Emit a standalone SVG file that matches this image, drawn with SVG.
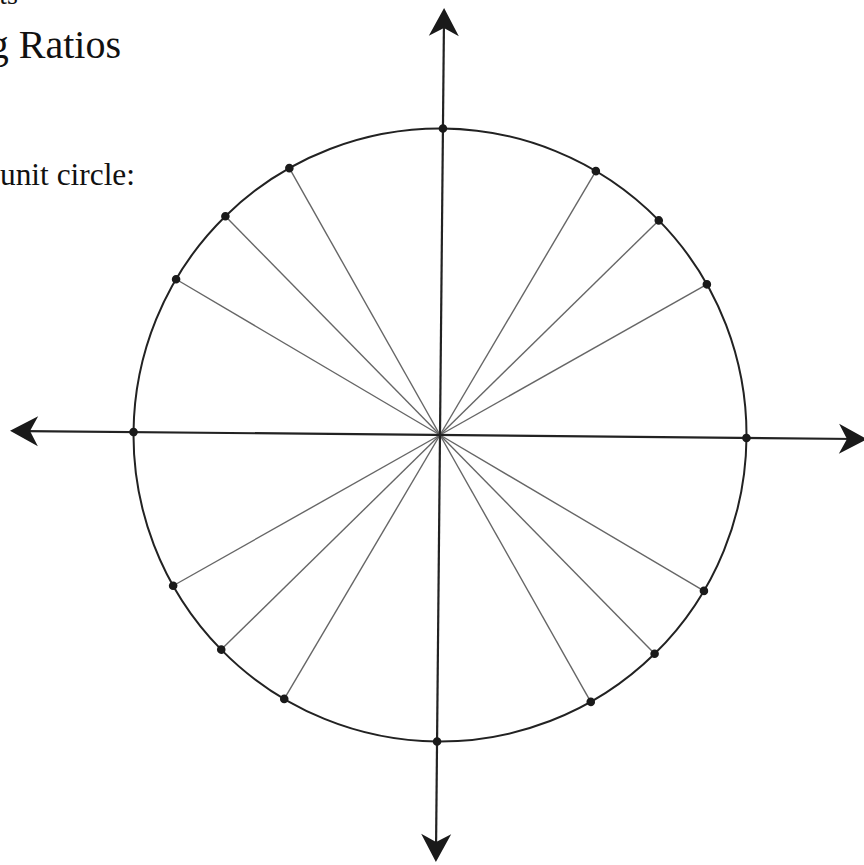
<svg xmlns="http://www.w3.org/2000/svg" width="864" height="865" viewBox="0 0 864 865">
<style>
.txt{font-family:"Liberation Serif","DejaVu Serif",serif;fill:#111}
.ray{stroke:#666;stroke-width:1.4;fill:none}
.axis{stroke:#222;stroke-width:2.2;fill:none}
.circ{stroke:#222;stroke-width:2;fill:none}
.dot{fill:#1a1a1a}
.head{fill:#1a1a1a}
</style>
<defs>
<path id="ah" class="head" d="M0,0 L-15,28 L0,20 L15,28 Z"/>
</defs>
<rect width="864" height="865" fill="#fff"/>
<text class="txt" x="18" y="4" font-size="28" text-anchor="end">ts</text>
<text class="txt" x="121" y="58" font-size="40" text-anchor="end">g Ratios</text>
<text class="txt" x="0" y="185" font-size="31" textLength="135" lengthAdjust="spacingAndGlyphs">unit circle:</text>
<g transform="rotate(0.55 440 435)">
<g id="rays">
<line class="ray" x1="440" y1="435" x2="705.4" y2="281.8"/>
<line class="ray" x1="440" y1="435" x2="656.7" y2="218.3"/>
<line class="ray" x1="440" y1="435" x2="593.3" y2="169.6"/>
<line class="ray" x1="440" y1="435" x2="286.8" y2="169.6"/>
<line class="ray" x1="440" y1="435" x2="223.3" y2="218.3"/>
<line class="ray" x1="440" y1="435" x2="174.6" y2="281.8"/>
<line class="ray" x1="440" y1="435" x2="174.6" y2="588.3"/>
<line class="ray" x1="440" y1="435" x2="223.3" y2="651.7"/>
<line class="ray" x1="440" y1="435" x2="286.8" y2="700.4"/>
<line class="ray" x1="440" y1="435" x2="593.3" y2="700.4"/>
<line class="ray" x1="440" y1="435" x2="656.7" y2="651.7"/>
<line class="ray" x1="440" y1="435" x2="705.4" y2="588.3"/>
</g>
<g id="circle">
<circle class="circ" cx="440" cy="435" r="306.5"/>
</g>
<g id="axes">
<line class="axis" x1="440" y1="24" x2="440" y2="846"/>
<line class="axis" x1="26" y1="435" x2="856" y2="435"/>
<use href="#ah" transform="translate(440 8)"/>
<use href="#ah" transform="translate(440 862) rotate(180)"/>
<use href="#ah" transform="translate(10 435) rotate(-90)"/>
<use href="#ah" transform="translate(867 435) rotate(90)"/>
</g>
<g id="points">
<circle class="dot" cx="440" cy="128.5" r="4.3"/>
<circle class="dot" cx="593.3" cy="169.6" r="4.3"/>
<circle class="dot" cx="656.7" cy="218.3" r="4.3"/>
<circle class="dot" cx="705.4" cy="281.8" r="4.3"/>
<circle class="dot" cx="746.5" cy="435" r="4.3"/>
<circle class="dot" cx="705.4" cy="588.3" r="4.3"/>
<circle class="dot" cx="656.7" cy="651.7" r="4.3"/>
<circle class="dot" cx="593.3" cy="700.4" r="4.3"/>
<circle class="dot" cx="440" cy="741.5" r="4.3"/>
<circle class="dot" cx="286.8" cy="700.4" r="4.3"/>
<circle class="dot" cx="223.3" cy="651.7" r="4.3"/>
<circle class="dot" cx="174.6" cy="588.3" r="4.3"/>
<circle class="dot" cx="133.5" cy="435" r="4.3"/>
<circle class="dot" cx="174.6" cy="281.8" r="4.3"/>
<circle class="dot" cx="223.3" cy="218.3" r="4.3"/>
<circle class="dot" cx="286.8" cy="169.6" r="4.3"/>
</g>
</g>
</svg>
